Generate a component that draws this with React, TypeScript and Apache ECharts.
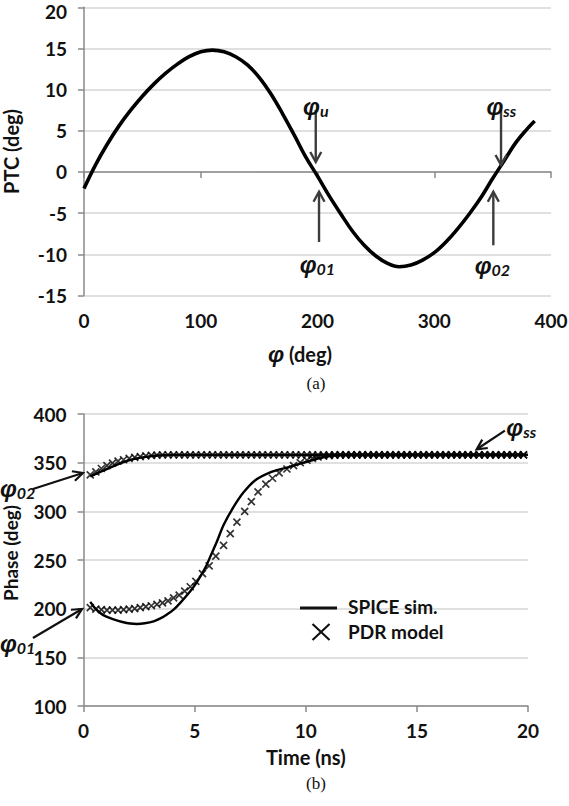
import React, { useEffect, useRef } from "react";
import * as echarts from "echarts";

// ---------- (a) PTC vs phase ----------
const phiDeg = [0, 10, 20, 30, 40, 50, 60, 70, 80, 90, 100, 110, 120, 130, 140, 150, 160, 170, 180, 190, 200, 210, 220, 230, 240, 250, 260, 270, 280, 290, 300, 310, 320, 330, 340, 350, 360, 370, 380, 386];
const ptcDeg = [-2.0, 0.9, 3.4, 5.6, 7.5, 9.2, 10.7, 12.0, 13.1, 14.0, 14.6, 14.8, 14.6, 14.0, 13.0, 11.5, 9.5, 7.1, 4.5, 1.8, -0.5, -2.9, -5.1, -7.2, -8.9, -10.2, -11.1, -11.5, -11.3, -10.7, -9.8, -8.5, -6.9, -5.1, -3.1, -0.8, 1.4, 3.6, 5.3, 6.2];
const topXTicks = [0, 100, 200, 300, 400];
const topYTicks = [-15, -10, -5, 0, 5, 10, 15, 20];

// ---------- (b) Phase vs time ----------
const spiceLowT = [0.3, 0.5, 0.75, 1.0, 1.35, 1.75, 2.1, 2.4, 2.75, 3.15, 3.5, 3.75, 4.05, 4.35, 4.8, 5.0, 5.25, 5.5, 5.75, 6.0, 6.3, 6.75, 7.2, 7.7, 8.4, 9.15, 9.9, 10.65, 11.1, 11.5, 15, 20];
const spiceLowV = [207, 201, 195.5, 192, 189, 186.3, 184.7, 184.3, 185, 187, 190.5, 194, 199, 206, 218, 224, 233, 243, 256, 269, 286, 304.5, 319.5, 331.5, 340, 345, 350, 354.8, 357, 358, 358, 358];
const spiceHighT = [0.3, 0.8, 1.3, 1.8, 2.3, 2.8, 3.3, 4.0, 20];
const spiceHighV = [336, 341, 346, 350.5, 354, 356, 357.3, 358, 358];

const pdrHighT = [0.3, 0.55, 0.8, 1.05, 1.3, 1.55, 1.8, 2.05, 2.3, 2.55, 2.8, 3.05, 3.3, 3.55, 3.8, 4.05, 4.3, 4.55, 4.8, 5.05, 5.3, 5.55, 5.8, 6.05, 6.3, 6.55, 6.8, 7.05, 7.3, 7.55, 7.8, 8.05, 8.3, 8.55, 8.8, 9.05, 9.3, 9.55, 9.8, 10.05, 10.3, 10.55, 10.8, 11.05, 11.3, 11.55, 11.8, 12.05, 12.3, 12.55, 12.8, 13.05, 13.3, 13.55, 13.8, 14.05, 14.3, 14.55, 14.8, 15.05, 15.3, 15.55, 15.8, 16.05, 16.3, 16.55, 16.8, 17.05, 17.3, 17.55, 17.8, 18.05, 18.3, 18.55, 18.8, 19.05, 19.3, 19.55, 19.8];
const pdrHighV = [337.5, 340.5, 344, 347, 349.5, 351.5, 353, 354.5, 355.5, 356.3, 357, 357.5, 357.8,
  358, 358, 358, 358, 358, 358, 358, 358, 358, 358, 358,
  358, 358, 358, 358, 358, 358, 358, 358, 358, 358, 358,
  358, 358, 358, 358, 358, 358, 358, 358, 358, 358, 358,
  358, 358, 358, 358, 358, 358, 358, 358, 358, 358, 358,
  358, 358, 358, 358, 358, 358, 358, 358, 358, 358, 358,
  358, 358, 358, 358, 358, 358, 358, 358, 358, 358, 358];

const pdrLowT = [0.3, 0.55, 0.8, 1.05, 1.3, 1.55, 1.8, 2.05, 2.3, 2.55, 2.8, 3.05, 3.3, 3.55, 3.8, 4.05, 4.3, 4.55, 4.8,
  5.05, 5.35, 5.65, 5.95, 6.3, 6.6, 6.9, 7.25, 7.55, 7.85, 8.2, 8.5, 8.8, 9.15, 9.45, 9.75, 10.05,
  10.3, 10.55, 10.8, 11.05, 11.3, 11.55, 11.8, 12.05, 12.3, 12.55, 12.8, 13.05, 13.3, 13.55, 13.8, 14.05, 14.3, 14.55, 14.8, 15.05, 15.3, 15.55, 15.8, 16.05, 16.3, 16.55, 16.8, 17.05, 17.3, 17.55, 17.8, 18.05, 18.3, 18.55, 18.8, 19.05, 19.3, 19.55, 19.8];
const pdrLowV = [201, 199.5, 199, 198.5, 198.5, 198.5, 199, 199.5, 200, 201, 202, 203, 204.5, 206, 208, 211, 214, 218, 222.5,
  228, 236, 244, 254, 265, 277, 289, 300, 310, 320, 328, 334, 339.5, 343.5, 347, 350, 352.5,
  354.5, 355.8, 356.7, 357.3, 357.7,
  358, 358, 358, 358, 358, 358, 358, 358, 358, 358, 358, 358, 358, 358, 358, 358, 358,
  358, 358, 358, 358, 358, 358, 358, 358, 358, 358, 358, 358, 358, 358, 358, 358, 358];
const botXTicks = [0, 5, 10, 15, 20];
const botYTicks = [100, 150, 200, 250, 300, 350, 400];

const seriesNames = ["SPICE sim.", "PDR model"];

// annotations (data coordinates)
const topArrows = [
  { from: [198.5, 7.53], to: [198.5, 1.21] },
  { from: [201.3, -8.5], to: [201.3, -2.4] },
  { from: [357.2, 7.53], to: [357.2, 0.85] },
  { from: [350.6, -8.9], to: [350.6, -2.4] },
];
const topLabels = [
  { at: [193.6, 8.62], sub: "u" },
  { at: [190.7, -10.57], sub: "01" },
  { at: [350.7, 8.54], sub: "ss" },
  { at: [340.6, -10.81], sub: "02" },
];
const botArrows = [
  { from: [18.96, 382.9], to: [17.69, 363.7] },
  { from: [-2.28, 323], to: [-0.03, 339.4] },
  { from: [-2.28, 169.9], to: [-0.07, 199.7] },
];
const botLabels = [
  { at: [19.34, 390.8], sub: "ss" },
  { at: [-3.45, 329], sub: "02" },
  { at: [-3.45, 169.5], sub: "01" },
];
const legendAnchor = [9.74, 200.7];

const FONT = "Lato, 'Open Sans', sans-serif";
const GREEK = "'Liberation Sans', 'DejaVu Sans', sans-serif";
const TXT = "#111111";
const AXIS = "#8a8a8a";
const GRIDC = "#d6d6d6";

function arrow(p1: number[], p2: number[], color: string, width: number, headLen: number, headHalf: number) {
  const dx = p2[0] - p1[0];
  const dy = p2[1] - p1[1];
  const len = Math.hypot(dx, dy);
  const ux = dx / len;
  const uy = dy / len;
  const px = -uy;
  const py = ux;
  const a = [p2[0] - ux * headLen + px * headHalf, p2[1] - uy * headLen + py * headHalf];
  const b = [p2[0] - ux * headLen - px * headHalf, p2[1] - uy * headLen - py * headHalf];
  return [
    { type: "line", silent: true, z: 100, shape: { x1: p1[0], y1: p1[1], x2: p2[0] - ux, y2: p2[1] - uy }, style: { stroke: color, lineWidth: width } },
    { type: "polyline", silent: true, z: 100, shape: { points: [a, p2, b] }, style: { stroke: color, lineWidth: width, fill: null, lineJoin: "miter" } },
  ];
}

function phiLabel(c: number[], sub: string) {
  return {
    type: "text",
    silent: true,
    z: 100,
    x: c[0] - 7,
    y: c[1] + 3,
    style: {
      text: `{p|φ}{s|${sub}}`,
      align: "left",
      verticalAlign: "middle",
      fill: TXT,
      rich: {
        p: { fontFamily: GREEK, fontStyle: "italic", fontWeight: "bold", fontSize: 24, lineHeight: 28, fill: TXT, verticalAlign: "bottom" },
        s: { fontFamily: FONT, fontStyle: "italic", fontWeight: "bold", fontSize: 16, lineHeight: 6, fill: TXT, verticalAlign: "bottom" },
      },
    },
  };
}

const axisCommon = {
  axisLine: { show: true, lineStyle: { color: AXIS, width: 1.5 } },
  axisTick: { show: true, length: 6, lineStyle: { color: AXIS, width: 1.5 } },
  axisLabel: { fontFamily: FONT, fontSize: 19, fontWeight: "bold", color: TXT, margin: 15 },
  nameTextStyle: { fontFamily: FONT, fontSize: 20, fontWeight: "bold", color: TXT },
};

export default function App() {
  const ref = useRef<HTMLDivElement>(null);
  useEffect(() => {
    if (!ref.current) return;
    const chart = echarts.init(ref.current, null, { renderer: "svg" });
    const option: any = {
      animation: false,
      backgroundColor: "#ffffff",
      grid: [
        { left: 84, top: 7.3, width: 467, height: 288.2, containLabel: false, outerBoundsMode: "none" },
        { left: 83.6, top: 414, width: 444.4, height: 292, containLabel: false, outerBoundsMode: "none" },
      ],
      xAxis: [
        {
          ...axisCommon,
          gridIndex: 0,
          type: "value",
          min: topXTicks[0],
          max: topXTicks[topXTicks.length - 1],
          interval: topXTicks[1] - topXTicks[0],
          splitLine: { show: false },
          name: "{p|φ} (deg)",
          nameLocation: "middle",
          nameGap: 47,
          nameTextStyle: {
            ...axisCommon.nameTextStyle,
            padding: [0, 35, 0, 0],
            rich: { p: { fontFamily: GREEK, fontStyle: "italic", fontWeight: "bold", fontSize: 23, color: TXT } },
          },
        },
        {
          ...axisCommon,
          gridIndex: 1,
          type: "value",
          min: botXTicks[0],
          max: botXTicks[botXTicks.length - 1],
          interval: botXTicks[1] - botXTicks[0],
          splitLine: { show: false },
          name: "Time (ns)",
          nameLocation: "middle",
          nameGap: 41,
        },
      ],
      yAxis: [
        {
          ...axisCommon,
          gridIndex: 0,
          type: "value",
          min: topYTicks[0],
          max: topYTicks[topYTicks.length - 1],
          interval: topYTicks[1] - topYTicks[0],
          axisLabel: {
            ...axisCommon.axisLabel,
            margin: 17,
            formatter: (v: number) => (v === topYTicks[topYTicks.length - 1] ? `{t|${v}}` : `${v}`),
            rich: { t: { fontFamily: FONT, fontSize: 19, fontWeight: "bold", color: TXT, padding: [9, 0, 0, 0] } },
          },
          splitLine: { show: true, lineStyle: { color: GRIDC, width: 1.5 } },
          name: "PTC (deg)",
          nameLocation: "middle",
          nameGap: 63,
          nameTextStyle: { ...axisCommon.nameTextStyle, lineHeight: 20 },
        },
        {
          ...axisCommon,
          gridIndex: 1,
          type: "value",
          min: botYTicks[0],
          max: botYTicks[botYTicks.length - 1],
          interval: botYTicks[1] - botYTicks[0],
          axisLabel: { ...axisCommon.axisLabel, margin: 17 },
          splitLine: { show: true, lineStyle: { color: GRIDC, width: 1.5 } },
          name: "Phase (deg)",
          nameLocation: "middle",
          nameGap: 64,
          nameTextStyle: { ...axisCommon.nameTextStyle, fontSize: 19, lineHeight: 19, padding: [0, 0, 0, 14] },
        },
      ],
      series: [
        {
          name: "PTC",
          type: "line",
          xAxisIndex: 0,
          yAxisIndex: 0,
          data: phiDeg.map((p, i) => [p, ptcDeg[i]]),
          smooth: 0.4,
          showSymbol: false,
          lineStyle: { color: "#000", width: 3.6 },
          z: 3,
        },
        {
          name: seriesNames[0],
          type: "line",
          xAxisIndex: 1,
          yAxisIndex: 1,
          data: spiceLowT.map((t, i) => [t, spiceLowV[i]]),
          smooth: 0.3,
          showSymbol: false,
          lineStyle: { color: "#000", width: 2.4 },
          z: 3,
        },
        {
          name: seriesNames[0] + " ",
          type: "line",
          xAxisIndex: 1,
          yAxisIndex: 1,
          data: spiceHighT.map((t, i) => [t, spiceHighV[i]]),
          smooth: 0.3,
          showSymbol: false,
          lineStyle: { color: "#000", width: 2.4 },
          z: 3,
        },
        {
          name: seriesNames[1],
          type: "scatter",
          xAxisIndex: 1,
          yAxisIndex: 1,
          data: pdrLowT.map((t, i) => [t, pdrLowV[i]]),
          symbol: "path://M0,0L10,10M10,0L0,10",
          symbolSize: 7,
          itemStyle: { color: "rgba(0,0,0,0)", borderColor: "#000", borderWidth: 1.7 },
          z: 4,
        },
        {
          name: seriesNames[1] + " ",
          type: "scatter",
          xAxisIndex: 1,
          yAxisIndex: 1,
          data: pdrHighT.map((t, i) => [t, pdrHighV[i]]),
          symbol: "path://M0,0L10,10M10,0L0,10",
          symbolSize: 7,
          itemStyle: { color: "rgba(0,0,0,0)", borderColor: "#000", borderWidth: 1.7 },
          z: 4,
        },
      ],
    };
    chart.setOption(option);

    const toTop = (p: number[]) => chart.convertToPixel({ xAxisIndex: 0, yAxisIndex: 0 }, p) as number[];
    const toBot = (p: number[]) => chart.convertToPixel({ xAxisIndex: 1, yAxisIndex: 1 }, p) as number[];

    const elements: any[] = [];
    topArrows.forEach((a) => elements.push(...arrow(toTop(a.from), toTop(a.to), "#3c3c3c", 2.4, 10, 5.5)));
    topLabels.forEach((l) => elements.push(phiLabel(toTop(l.at), l.sub)));
    botArrows.forEach((a) => elements.push(...arrow(toBot(a.from), toBot(a.to), "#111", 2.2, 10, 5)));
    botLabels.forEach((l) => elements.push(phiLabel(toBot(l.at), l.sub)));

    // legend
    const lg0 = toBot(legendAnchor);
    elements.push({ type: "line", silent: true, shape: { x1: lg0[0], y1: lg0[1], x2: lg0[0] + 37, y2: lg0[1] }, style: { stroke: "#111", lineWidth: 3 } });
    elements.push({ type: "text", silent: true, x: lg0[0] + 48, y: lg0[1] - 1, style: { text: seriesNames[0], fontFamily: FONT, fontWeight: "bold", fontSize: 19, fill: TXT, align: "left", verticalAlign: "middle" } });
    const cx = lg0[0] + 21;
    const cy = lg0[1] + 24;
    elements.push({ type: "line", silent: true, shape: { x1: cx - 8.5, y1: cy - 8, x2: cx + 8.5, y2: cy + 8 }, style: { stroke: "#111", lineWidth: 2.2 } });
    elements.push({ type: "line", silent: true, shape: { x1: cx - 8.5, y1: cy + 8, x2: cx + 8.5, y2: cy - 8 }, style: { stroke: "#111", lineWidth: 2.2 } });
    elements.push({ type: "text", silent: true, x: lg0[0] + 48, y: cy, style: { text: seriesNames[1], fontFamily: FONT, fontWeight: "bold", fontSize: 19, fill: TXT, align: "left", verticalAlign: "middle" } });

    // captions
    elements.push({ type: "text", silent: true, x: 316, y: 383, style: { text: "(a)", fontFamily: "'Liberation Serif', serif", fontSize: 17, fill: "#111", align: "center", verticalAlign: "middle" } });
    elements.push({ type: "text", silent: true, x: 316, y: 783, style: { text: "(b)", fontFamily: "'Liberation Serif', serif", fontSize: 17, fill: "#111", align: "center", verticalAlign: "middle" } });

    chart.setOption({ graphic: { elements } });
    return () => chart.dispose();
  }, []);
  return <div ref={ref} style={{ position: "absolute", left: 0, top: 0, width: 569, height: 806 }} />;
}
